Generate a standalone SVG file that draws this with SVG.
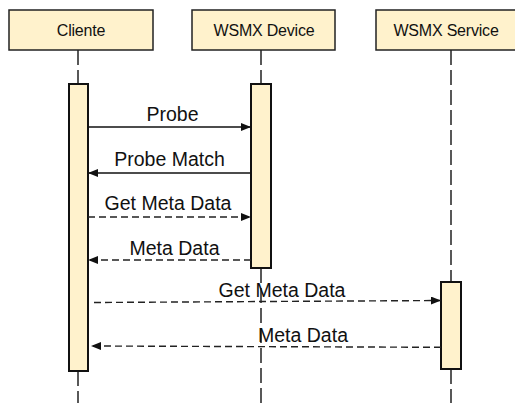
<svg xmlns="http://www.w3.org/2000/svg" width="515" height="403" viewBox="0 0 515 403">
  <style>
    .head { fill: #fff2cc; stroke: #222; stroke-width: 1.5; }
    .act { fill: #fff2cc; stroke: #111; stroke-width: 2; }
    .life { stroke: #222; stroke-width: 1.5; stroke-dasharray: 15 5; fill: none; }
    .htxt { font-family: "Liberation Sans", Arial, sans-serif; font-size: 16px; fill: #111; text-anchor: middle; letter-spacing: -0.2px; }
    .mtxt { font-family: "Liberation Sans", Arial, sans-serif; font-size: 19.5px; fill: #111; text-anchor: middle; }
    .sync { stroke: #111; stroke-width: 1.4; fill: none; marker-end: url(#arrow); }
    .ret { stroke: #222; stroke-width: 1.4; fill: none; stroke-dasharray: 7 4; marker-end: url(#arrow); }
  </style>
  <defs>
    <marker id="arrow" viewBox="0 0 10 8" refX="10" refY="4" markerWidth="10" markerHeight="8" markerUnits="userSpaceOnUse" orient="auto">
      <path d="M0,0 L10,4 L0,8 Z" fill="#111"/>
    </marker>
  </defs>
  <rect width="515" height="403" fill="#fff"/>

  <!-- lifelines -->
  <g id="lifelines">
    <line class="life" x1="78" y1="50" x2="78" y2="84"/>
    <line class="life" x1="78" y1="371" x2="78" y2="403"/>
    <line class="life" x1="261" y1="50" x2="261" y2="84"/>
    <line class="life" x1="261" y1="268" x2="261" y2="403"/>
    <line class="life" x1="451" y1="50" x2="451" y2="282"/>
    <line class="life" x1="451" y1="369" x2="451" y2="403"/>
  </g>

  <!-- participants -->
  <g id="cliente">
    <rect class="head" x="9" y="10" width="144" height="40"/>
    <text class="htxt" x="81" y="36">Cliente</text>
    <rect class="act" x="69" y="84" width="19" height="287"/>
  </g>
  <g id="wsmx-device">
    <rect class="head" x="192" y="10" width="143" height="40"/>
    <text class="htxt" x="264" y="36">WSMX Device</text>
    <rect class="act" x="251" y="84" width="20" height="184"/>
  </g>
  <g id="wsmx-service">
    <rect class="head" x="376" y="10" width="145" height="40"/>
    <text class="htxt" x="446" y="36">WSMX Service</text>
    <rect class="act" x="441" y="282" width="20" height="87"/>
  </g>

  <!-- messages -->
  <g id="connectors">
    <line class="sync" x1="88" y1="127" x2="251" y2="127"/>
    <line class="sync" x1="251" y1="173" x2="88" y2="173"/>
    <line class="ret" x1="88" y1="217" x2="251" y2="217"/>
    <line class="ret" x1="251" y1="260" x2="88" y2="260"/>
    <line class="ret" x1="94" y1="302.5" x2="441" y2="300.5"/>
    <line class="ret" x1="441" y1="347.3" x2="91" y2="346"/>
    <text class="mtxt" x="172.5" y="121">Probe</text>
    <text class="mtxt" x="169.5" y="166">Probe Match</text>
    <text class="mtxt" x="168" y="210">Get Meta Data</text>
    <text class="mtxt" x="174.5" y="255">Meta Data</text>
    <text class="mtxt" x="282" y="297">Get Meta Data</text>
    <text class="mtxt" x="303" y="341.5">Meta Data</text>
  </g>
</svg>
